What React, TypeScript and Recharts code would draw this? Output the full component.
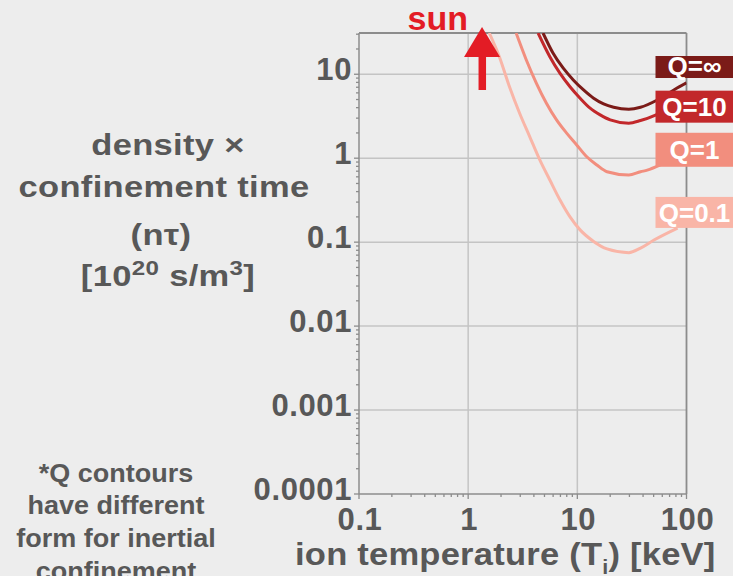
import { LineChart, Line, XAxis, YAxis, ReferenceLine, ReferenceDot } from "recharts"

// ion temperature [keV] vs n*tau [10^20 s/m^3]
const qInfCurve = [
    { t: 4.85, n: 31 }, { t: 6.0, n: 17.8 }, { t: 7.43, n: 11.8 }, { t: 9.18, n: 8.56 },
    { t: 11.4, n: 6.5 }, { t: 14.1, n: 5.18 }, { t: 17.4, n: 4.43 }, { t: 21.5, n: 4.04 },
    { t: 29.6, n: 3.83 }, { t: 37.9, n: 4.04 }, { t: 54, n: 4.94 }, { t: 76.6, n: 6.5 },
    { t: 100, n: 7.9 },
]
const q10Curve = [
    { t: 4.37, n: 31 }, { t: 5.6, n: 16.2 }, { t: 6.92, n: 10.3 }, { t: 8.57, n: 7.1 },
    { t: 10.6, n: 5.18 }, { t: 13.1, n: 3.94 }, { t: 16.2, n: 3.28 }, { t: 20, n: 2.86 },
    { t: 29.6, n: 2.61 }, { t: 37.9, n: 2.81 }, { t: 52, n: 3.27 }, { t: 65, n: 3.76 },
]
const q1Curve = [
    { t: 2.75, n: 31 }, { t: 3.41, n: 14.8 }, { t: 4.22, n: 7.8 }, { t: 5.21, n: 4.52 },
    { t: 6.45, n: 2.86 }, { t: 7.98, n: 1.99 }, { t: 9.87, n: 1.44 }, { t: 12.2, n: 1.04 },
    { t: 15.1, n: 0.83 }, { t: 18.7, n: 0.69 }, { t: 29.6, n: 0.63 }, { t: 37.9, n: 0.69 },
    { t: 43.7, n: 0.72 }, { t: 62, n: 0.87 }, { t: 72, n: 0.95 },
]
const q01Curve = [
    { t: 1.56, n: 31 }, { t: 1.93, n: 16.2 }, { t: 2.39, n: 7.1 }, { t: 2.96, n: 3.43 },
    { t: 3.66, n: 1.81 }, { t: 4.53, n: 0.955 }, { t: 5.6, n: 0.55 }, { t: 6.92, n: 0.32 },
    { t: 8.57, n: 0.2 }, { t: 10.6, n: 0.14 }, { t: 14.1, n: 0.102 }, { t: 18.7, n: 0.083 },
    { t: 29.6, n: 0.075 }, { t: 37.9, n: 0.085 }, { t: 50.4, n: 0.106 }, { t: 82.8, n: 0.147 },
]

const curveNames = ["Q=∞", "Q=10", "Q=1", "Q=0.1"]
const curveColors = ["#7b1b18", "#c2282b", "#f28e7e", "#f9b5a7"]
const labelAnchors = [12.2, 4.11, 1.26, 0.226] // n*tau where each tag sits, at T=100
const labelHeights = [22, 32, 34, 31]

const sunTemp = 1.34

const xMajorTicks = [0.1, 1, 10, 100]
const xTickLabels = ["0.1", "1", "10", "100"]
const xMinorTicks = [0.2, 0.3, 0.4, 0.5, 0.6, 0.7, 0.8, 0.9, 2, 3, 4, 5, 6, 7, 8, 9, 20, 30, 40, 50, 60, 70, 80, 90]
const yMajorTicks = [0.0001, 0.001, 0.01, 0.1, 1, 10]
const yTickLabels = ["0.0001", "0.001", "0.01", "0.1", "1", "10"]
const yMinorTicks = [
    0.0002, 0.0003, 0.0004, 0.0005, 0.0006, 0.0007, 0.0008, 0.0009,
    0.002, 0.003, 0.004, 0.005, 0.006, 0.007, 0.008, 0.009,
    0.02, 0.03, 0.04, 0.05, 0.06, 0.07, 0.08, 0.09,
    0.2, 0.3, 0.4, 0.5, 0.6, 0.7, 0.8, 0.9,
    2, 3, 4, 5, 6, 7, 8, 9, 20, 30,
]
const yTop = 31

const FONT = '"Liberation Sans", Arial, Helvetica, sans-serif'
const TEXT = "#585858"
const AXIS = "#8c8c8c"
const GRID = "#c4c4c4"

// the reference type is a touch wider than Liberation Sans, so stretch it a bit
const Wide = ({ x, y, sx = 1.12, anchor = "middle", size, spacing = 0, children }: any) => (
    <text transform={`translate(${x},${y}) scale(${sx},1)`} textAnchor={anchor}
        fontSize={size} letterSpacing={spacing}>
        {children}
    </text>
)

const YTick = ({ x, y, payload }: any) => {
    const i = yMajorTicks.indexOf(payload.value)
    return (
        <g>
            <line x1={x} x2={x - (i >= 0 ? 5 : 3)} y1={y} y2={y} stroke={AXIS} strokeWidth={1.3} />
            {i >= 0 && (
                <text x={x - 7} y={y + 6} textAnchor="end" fontSize={31} fontWeight="bold"
                    fontFamily={FONT} fill={TEXT} letterSpacing={0.6}>
                    {yTickLabels[i]}
                </text>
            )}
        </g>
    )
}

const XTick = ({ x, y, payload }: any) => {
    const i = xMajorTicks.indexOf(payload.value)
    return (
        <g>
            <line x1={x} x2={x} y1={y} y2={y + (i >= 0 ? 5 : 3)} stroke={AXIS} strokeWidth={1.3} />
            {i >= 0 && (
                <text x={x + 1} y={y + 36} textAnchor="middle" fontSize={31} fontWeight="bold"
                    fontFamily={FONT} fill={TEXT} letterSpacing={0.6}>
                    {xTickLabels[i]}
                </text>
            )}
        </g>
    )
}

const QTag = ({ cx, cy, idx }: any) => {
    const h = labelHeights[idx]
    return (
        <g>
            <rect x={cx - 31} y={cy - h / 2} width={90} height={h} fill={curveColors[idx]} />
            <text x={cx + 8} y={cy + (idx === 0 ? 8 : 9.5)} textAnchor="middle" fontSize={26}
                fontWeight="bold" fontFamily={FONT} fill="#ffffff">
                {curveNames[idx]}
            </text>
        </g>
    )
}

const SunArrow = ({ cx, cy }: any) => (
    <g>
        <polygon points={`${cx},${cy - 6} ${cx - 18},${cy + 24} ${cx + 18},${cy + 24}`} fill="#e31c25" />
        <rect x={cx - 3.5} y={cy + 23} width={7.5} height={34} fill="#e31c25" />
        <text x={cx - 14} y={cy - 3} textAnchor="end" fontSize={34} fontWeight="bold"
            fontFamily={FONT} fill="#e31c25">
            sun
        </text>
    </g>
)

export default function App() {
    const curves = [qInfCurve, q10Curve, q1Curve, q01Curve]
    return (
        <div style={{ position: "absolute", left: 0, top: 0, width: 733, height: 576, background: "#ededed", overflow: "hidden" }}>
            <LineChart width={733} height={576} margin={{ top: 33, right: 46.5, bottom: 0, left: 0 }}>
                <XAxis type="number" dataKey="t" scale="log" domain={[0.1, 100]} allowDataOverflow
                    ticks={[...xMajorTicks, ...xMinorTicks]} interval={0} tickSize={0} tickMargin={0}
                    tickLine={false} tick={(p: any) => <XTick {...p} />} height={82}
                    axisLine={{ stroke: AXIS, strokeWidth: 1.5 }} />
                <YAxis type="number" dataKey="n" scale="log" domain={[0.0001, yTop]} allowDataOverflow
                    ticks={[...yMajorTicks, ...yMinorTicks]} interval={0} tickSize={0} tickMargin={0}
                    tickLine={false} tick={(p: any) => <YTick {...p} />} width={359}
                    axisLine={{ stroke: AXIS, strokeWidth: 1.5 }} />

                {yMajorTicks.slice(1).map(v => (
                    <ReferenceLine key={"gy" + v} y={v} stroke={GRID} strokeWidth={1.5} />
                ))}
                <ReferenceLine x={1} stroke={GRID} strokeWidth={1.5} />
                <ReferenceLine x={10} stroke={GRID} strokeWidth={1.5} />
                <ReferenceLine y={yTop} stroke={AXIS} strokeWidth={1.8} />
                <ReferenceLine x={100} stroke={AXIS} strokeWidth={1.8} />

                {curves.map((c, i) => (
                    <Line key={curveNames[i]} data={c} dataKey="n" type="monotone" stroke={curveColors[i]}
                        strokeWidth={3} dot={false} activeDot={false} isAnimationActive={false} />
                )).reverse()}

                {labelAnchors.map((v, i) => (
                    <ReferenceDot key={"tag" + i} x={100} y={v} r={0} ifOverflow="visible"
                        shape={(p: any) => <QTag {...p} idx={i} />} />
                )).reverse()}
                <ReferenceDot x={sunTemp} y={yTop} r={0} ifOverflow="visible"
                    shape={(p: any) => <SunArrow {...p} />} />
            </LineChart>

            <svg width={733} height={576} style={{ position: "absolute", left: 0, top: 0, pointerEvents: "none" }}
                fontFamily={FONT} fontWeight="bold" fill={TEXT}>
                <Wide x={168} y={155} size={30} sx={1.15} spacing={0.3}>density ×</Wide>
                <Wide x={164} y={197} size={30} sx={1.15} spacing={0.3}>confinement time</Wide>
                <Wide x={161} y={245} size={30} sx={1.15} spacing={0.3}>(nτ)</Wide>
                <Wide x={168} y={286} size={30} sx={1.15} spacing={0.3}>
                    [10<tspan fontSize={21} dy={-11}>20</tspan>
                    <tspan dy={11}> s/m</tspan>
                    <tspan fontSize={21} dy={-11}>3</tspan>
                    <tspan dy={11}>]</tspan>
                </Wide>

                <Wide x={116} y={482} size={25} sx={1.08}>*Q contours</Wide>
                <Wide x={116} y={514} size={25} sx={1.08}>have different</Wide>
                <Wide x={116} y={547} size={25} sx={1.08}>form for inertial</Wide>
                <Wide x={116} y={580} size={25} sx={1.08}>confinement</Wide>

                <Wide x={295} y={565} size={32} sx={1.08} anchor="start" spacing={0.2}>
                    ion temperature (T<tspan fontSize={20} dy={9}>i</tspan>
                    <tspan dy={-9}>) [keV]</tspan>
                </Wide>
            </svg>
        </div>
    )
}
